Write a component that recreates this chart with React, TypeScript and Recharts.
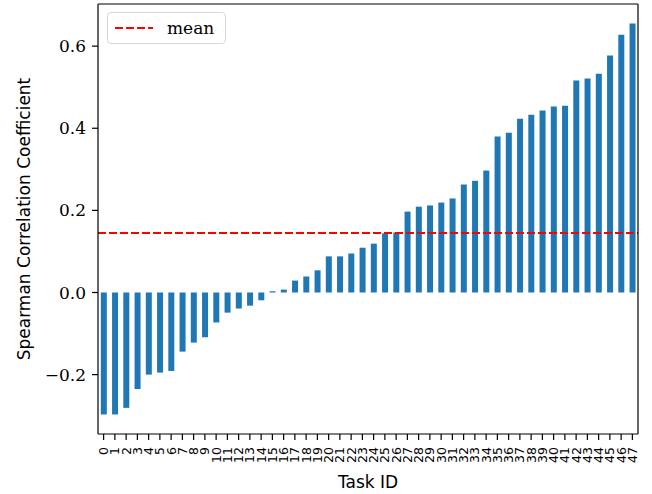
import React from 'react';
import { BarChart, Bar, XAxis, YAxis, ReferenceLine, Legend } from 'recharts';

// Task IDs in plotted order and their Spearman correlations (sorted ascending)
const taskIds: string[] = Array.from({ length: 48 }, (_, i) => String(i));

const correlations: number[] = [
  -0.297, -0.297, -0.281, -0.235, -0.200, -0.195, -0.191, -0.144,
  -0.122, -0.109, -0.073, -0.049, -0.039, -0.032, -0.019, 0.003,
  0.007, 0.029, 0.039, 0.054, 0.088, 0.088, 0.095, 0.109,
  0.119, 0.144, 0.146, 0.197, 0.209, 0.212, 0.219, 0.229,
  0.263, 0.272, 0.297, 0.380, 0.389, 0.423, 0.433, 0.443,
  0.453, 0.455, 0.516, 0.521, 0.533, 0.577, 0.628, 0.655,
];

const yTicks: number[] = [-0.2, 0.0, 0.2, 0.4, 0.6];
const Y_MIN = -0.3446;
const Y_MAX = 0.7026;

const data = taskIds.map((id, i) => ({ id, value: correlations[i] }));
const mean = correlations.reduce((s, v) => s + v, 0) / correlations.length;

const SERIF = '"DejaVu Serif", serif';
const SANS = '"DejaVu Sans", sans-serif';

const formatY = (v: number) => (v < 0 ? '\u2212' : '') + Math.abs(v).toFixed(1);

const XTick = (props: any) => {
  const { x, y, payload } = props;
  return (
    <text
      x={x}
      y={y}
      transform={`rotate(-90, ${x}, ${y})`}
      textAnchor="end"
      dy="0.35em"
      fontFamily={SANS}
      fontSize={12.5}
      fill="#000"
    >
      {payload.value}
    </text>
  );
};

const MeanLegend = () => (
  <div
    style={{
      border: '1px solid #d6d6d6',
      borderRadius: 4,
      background: 'white',
      width: 119,
      height: 32,
      boxSizing: 'border-box',
      display: 'flex',
      alignItems: 'center',
    }}
  >
    <svg width={38} height={10} style={{ marginLeft: 7 }}>
      <line x1={0} y1={5} x2={38} y2={5} stroke="red" strokeWidth={2} strokeDasharray="8 3" />
    </svg>
    <span style={{ fontFamily: SERIF, fontSize: 17, color: '#000', marginLeft: 14 }}>mean</span>
  </div>
);

const App: React.FC = () => {
  return (
    <div style={{ position: 'absolute', left: 0, top: 0, background: 'white' }}>
      <BarChart
        width={652}
        height={494}
        data={data}
        margin={{ top: 0, right: 0, left: 0, bottom: 0 }}
        barCategoryGap="25%"
      >
        <XAxis
          dataKey="id"
          interval={0}
          height={60}
          tick={<XTick />}
          tickSize={6}
          tickMargin={7}
          axisLine={{ stroke: '#000', strokeWidth: 1.2 }}
          tickLine={{ stroke: '#000', strokeWidth: 1.2 }}
          label={{ value: 'Task ID', position: 'insideBottom', offset: 6, fontFamily: SANS, fontSize: 17, fill: '#000' }}
        />
        <XAxis
          xAxisId="top"
          dataKey="id"
          orientation="top"
          height={4}
          tick={false}
          tickLine={false}
          axisLine={{ stroke: '#000', strokeWidth: 1.2 }}
        />
        <YAxis
          width={98}
          domain={[Y_MIN, Y_MAX]}
          allowDataOverflow
          ticks={yTicks}
          tickFormatter={formatY}
          tickSize={6}
          tickMargin={6}
          tick={{ fontFamily: SERIF, fontSize: 17, fill: '#000' }}
          axisLine={{ stroke: '#000', strokeWidth: 1.2 }}
          tickLine={{ stroke: '#000', strokeWidth: 1.2 }}
          label={{
            value: 'Spearman Correlation Coefficient',
            angle: -90,
            position: 'insideLeft',
            offset: 24,
            style: { textAnchor: 'middle' },
            fontFamily: SANS,
            fontSize: 17,
            fill: '#000',
          }}
        />
        <YAxis
          yAxisId="right"
          orientation="right"
          width={14}
          domain={[Y_MIN, Y_MAX]}
          allowDataOverflow
          tick={false}
          tickLine={false}
          axisLine={{ stroke: '#000', strokeWidth: 1.2 }}
        />
        <Legend
          layout="vertical"
          align="center"
          verticalAlign="middle"
          content={<MeanLegend />}
          wrapperStyle={{ left: 107, top: 12, width: 119 }}
        />
        <ReferenceLine y={mean} stroke="red" strokeWidth={2} strokeDasharray="8 3" ifOverflow="extendDomain" />
        <Bar dataKey="value" fill="#1f77b4" isAnimationActive={false} />
      </BarChart>
    </div>
  );
};

export default App;
